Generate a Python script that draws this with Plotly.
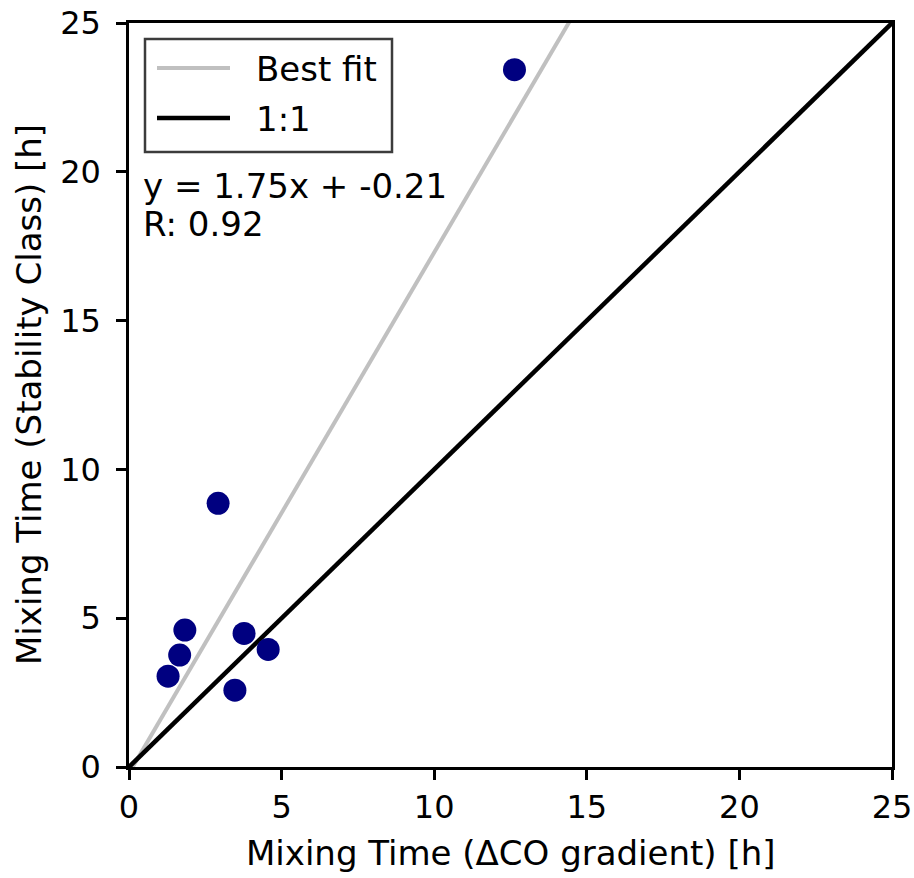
import plotly.graph_objects as go

# ---- data ----
mix_co = [12.63, 2.92, 1.83, 1.66, 1.28, 3.77, 4.56, 3.47]
mix_sc = [23.43, 8.86, 4.60, 3.76, 3.05, 4.49, 3.95, 2.58]
fit_slope = 1.75
fit_intercept = -0.21
fit_r = 0.92
axis_lim = [0, 25]
tick_vals = [0, 5, 10, 15, 20, 25]

FONT = "DejaVu Sans"
W, H = 914, 878
L, R, T, B = 129, 22, 23, 111
PW, PH = W - L - R, H - T - B


def px(xp):
    return (xp - L) / PW


def py(yp):
    return 1 - (yp - T) / PH


fig = go.Figure()

fit_x = [axis_lim[0], axis_lim[1]]
fit_y = [fit_slope * v + fit_intercept for v in fit_x]
fig.add_trace(go.Scatter(x=fit_x, y=fit_y, mode="lines",
                         line=dict(color="#c0c0c0", width=4),
                         name="Best fit", showlegend=False))
fig.add_trace(go.Scatter(x=axis_lim, y=axis_lim, mode="lines",
                         line=dict(color="black", width=4.5),
                         name="1:1", showlegend=False))
fig.add_trace(go.Scatter(x=mix_co, y=mix_sc, mode="markers",
                         marker=dict(color="#000080", size=23, line=dict(width=0)),
                         showlegend=False))

axis_common = dict(range=axis_lim, tickvals=tick_vals, showgrid=False, zeroline=False,
                   showline=True, linecolor="black", linewidth=2.5, mirror=True,
                   ticks="outside", ticklen=10, tickwidth=2.5, tickcolor="black",
                   automargin=False,
                   tickfont=dict(family=FONT, size=32, color="black"))
fig.update_xaxes(**axis_common)
fig.update_yaxes(**axis_common, ticklabelstandoff=9)

shapes = [
    dict(type="rect", xref="paper", yref="paper",
         x0=px(145), x1=px(392), y0=py(152), y1=py(39),
         line=dict(color="#3c3c3c", width=2.5), fillcolor="white", layer="above"),
    dict(type="line", xref="paper", yref="paper",
         x0=px(157), x1=px(230), y0=py(68), y1=py(68),
         line=dict(color="#c0c0c0", width=4), layer="above"),
    dict(type="line", xref="paper", yref="paper",
         x0=px(157), x1=px(230), y0=py(118), y1=py(118),
         line=dict(color="black", width=4.5), layer="above"),
]

tf = dict(family=FONT, size=34, color="black")
annotations = [
    dict(text="Best fit", xref="paper", yref="paper", x=px(254), y=py(69),
         xanchor="left", yanchor="middle", showarrow=False, font=tf),
    dict(text="1:1", xref="paper", yref="paper", x=px(254), y=py(119),
         xanchor="left", yanchor="middle", showarrow=False, font=tf),
    dict(text=f"y = {fit_slope:.2f}x + {fit_intercept:.2f}", xref="paper", yref="paper",
         x=px(141), y=py(186), xanchor="left", yanchor="middle", showarrow=False, font=tf),
    dict(text=f"R: {fit_r:.2f}", xref="paper", yref="paper",
         x=px(141), y=py(224), xanchor="left", yanchor="middle", showarrow=False, font=tf),
    dict(text="Mixing Time (ΔCO gradient) [h]", xref="paper", yref="paper",
         x=0.5, y=py(853), xanchor="center", yanchor="middle", showarrow=False, font=tf),
    dict(text="Mixing Time (Stability Class) [h]", xref="paper", yref="paper",
         x=px(29), y=0.5, xanchor="center", yanchor="middle", textangle=-90,
         showarrow=False, font=tf),
]

fig.update_layout(width=W, height=H, margin=dict(l=L, r=R, t=T, b=B, autoexpand=False),
                  paper_bgcolor="white", plot_bgcolor="white",
                  shapes=shapes, annotations=annotations, showlegend=False,
                  font=dict(family=FONT, color="black"))

fig.write_html("out.html", config={"displayModeBar": False},
               post_script="document.body.style.margin='0';document.body.style.overflow='hidden';")
